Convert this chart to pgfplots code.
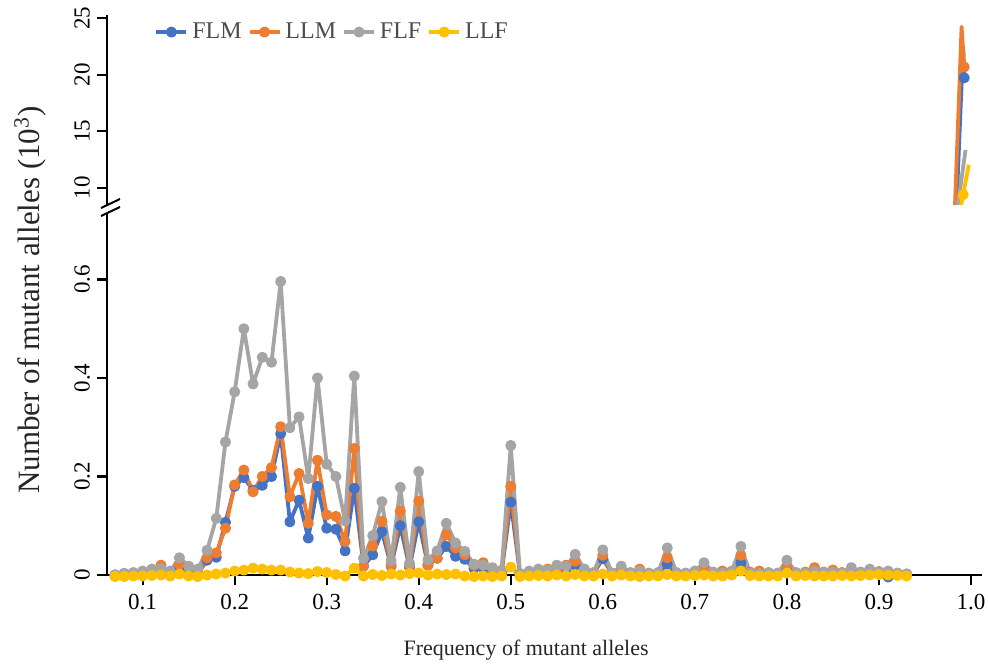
\documentclass[border=0pt]{standalone}
\usepackage{fontspec}
\setmainfont{Liberation Serif}
\usepackage{pgfplots}
\usepackage{pgfplotstable}
\pgfplotsset{compat=1.18}

\definecolor{cFLM}{HTML}{4472C4}
\definecolor{cLLM}{HTML}{ED7D31}
\definecolor{cFLF}{HTML}{A5A5A5}
\definecolor{cLLF}{HTML}{FFC000}

\pgfplotsset{
  ser/.style={color=#1, line width=1.9pt, line join=round, mark=*, mark size=1.8pt, mark options={solid}},
  brk/.style={
    scale only axis, width=437.5pt, anchor=south west,
    xmin=0.0613, xmax=1.012,
    axis y line*=left,
    axis line style={-, line width=1.1pt, black},
    tick style={line width=1.1pt, black},
    tick align=outside, major tick length=5pt,
    ticklabel style={font=\fontsize{11.5}{13}\selectfont},
    yticklabel style={rotate=90, anchor=south},
    /pgf/number format/assume math mode=true,
  },
}

% frequency, FLM, LLM, FLF, LLF  (counts in 10^3)
\pgfplotstableread{
x flm llm flf llf
0.07 0.000 0.000 0.000 -0.003
0.08 0.003 0.002 0.003 -0.003
0.09 0.002 0.003 0.005 -0.002
0.10 0.005 0.005 0.008 -0.002
0.11 0.006 0.008 0.012 -0.001
0.12 0.012 0.020 0.013 0.000
0.13 0.003 0.003 0.008 -0.002
0.14 0.015 0.022 0.035 0.002
0.15 0.005 0.006 0.018 -0.002
0.16 0.003 0.003 0.012 -0.003
0.17 0.030 0.035 0.050 0.000
0.18 0.036 0.045 0.115 0.002
0.19 0.107 0.095 0.270 0.004
0.20 0.180 0.183 0.372 0.008
0.21 0.198 0.213 0.500 0.010
0.22 0.172 0.169 0.388 0.014
0.23 0.182 0.200 0.442 0.012
0.24 0.200 0.218 0.432 0.010
0.25 0.287 0.301 0.596 0.010
0.26 0.108 0.159 0.299 0.006
0.27 0.152 0.206 0.321 0.004
0.28 0.075 0.105 0.196 0.003
0.29 0.180 0.233 0.400 0.007
0.30 0.095 0.122 0.225 0.005
0.31 0.093 0.119 0.200 0.001
0.32 0.049 0.068 0.110 -0.002
0.33 0.176 0.257 0.404 0.014
0.34 0.018 0.018 0.034 -0.002
0.35 0.041 0.059 0.080 0.001
0.36 0.088 0.109 0.149 -0.001
0.37 0.018 0.020 0.029 0.002
0.38 0.100 0.130 0.178 0.000
0.39 0.015 0.018 0.024 0.003
0.40 0.108 0.150 0.210 0.004
0.41 0.020 0.020 0.031 0.000
0.42 0.034 0.034 0.049 0.002
0.43 0.058 0.082 0.105 0.001
0.44 0.038 0.055 0.065 0.002
0.45 0.032 0.041 0.048 -0.002
0.46 0.013 0.020 0.022 -0.003
0.47 0.015 0.025 0.020 -0.002
0.48 0.008 0.012 0.015 -0.003
0.49 0.005 0.006 0.010 -0.002
0.50 0.148 0.180 0.263 0.016
0.51 0.002 0.002 0.003 -0.003
0.52 0.004 0.005 0.008 -0.002
0.53 0.006 0.008 0.012 -0.001
0.54 0.008 0.012 0.010 -0.002
0.55 0.008 0.010 0.020 0.000
0.56 0.012 0.020 0.018 -0.002
0.57 0.020 0.028 0.042 0.001
0.58 0.010 0.008 0.012 -0.002
0.59 0.003 0.004 0.005 -0.002
0.60 0.033 0.040 0.051 0.002
0.61 0.003 0.003 0.004 -0.002
0.62 0.006 0.010 0.018 0.000
0.63 0.003 0.003 0.005 -0.002
0.64 0.006 0.012 0.008 -0.003
0.65 0.002 0.003 0.004 -0.002
0.66 0.003 0.004 0.005 -0.002
0.67 0.022 0.035 0.055 0.001
0.68 0.003 0.004 0.005 -0.002
0.69 0.002 0.003 0.004 -0.002
0.70 0.004 0.006 0.008 -0.001
0.71 0.010 0.015 0.025 0.000
0.72 0.003 0.005 0.006 -0.002
0.73 0.004 0.008 0.004 -0.002
0.74 0.003 0.004 0.008 0.000
0.75 0.025 0.040 0.058 0.008
0.76 0.004 0.006 0.004 -0.001
0.77 0.005 0.008 0.003 -0.002
0.78 0.003 0.004 0.005 -0.002
0.79 0.002 0.003 0.004 -0.002
0.80 0.012 0.018 0.030 0.004
0.81 0.003 0.004 0.005 -0.002
0.82 0.004 0.006 0.004 -0.001
0.83 0.008 0.015 0.008 -0.002
0.84 0.004 0.006 0.005 -0.002
0.85 0.005 0.010 0.006 -0.002
0.86 0.003 0.005 0.004 -0.001
0.87 0.006 0.008 0.015 -0.002
0.88 0.004 0.005 0.006 -0.001
0.89 0.005 0.008 0.012 0.000
0.90 0.003 0.007 0.006 0.001
0.91 -0.004 0.004 0.008 0.000
0.92 0.002 0.003 0.004 -0.001
0.93 0.001 0.002 0.002 -0.002
}\lowdata

\begin{document}
\begin{tikzpicture}

% lower part of the broken axis
\begin{axis}[brk, at={(53.5pt,47.5pt)}, height=181pt,
  ymin=0, ymax=0.735, clip=false,
  axis x line*=bottom,
  xtick={0.1,0.2,0.3,0.4,0.5,0.6,0.7,0.8,0.9,1.0},
  xticklabels={0.1,0.2,0.3,0.4,0.5,0.6,0.7,0.8,0.9,1.0},
  xticklabel style={yshift=-1pt},
  ytick={0,0.2,0.4,0.6},
  yticklabels={0,0.2,0.4,0.6},
  xlabel={Frequency of mutant alleles},
  xlabel style={at={(axis description cs:0.479,0)}, anchor=north, yshift=-29pt,
    font=\fontsize{11}{13}\selectfont, text=black!85},
]
\addplot[ser=cFLM] table[x=x, y=flm] {\lowdata};
\addplot[ser=cLLM] table[x=x, y=llm] {\lowdata};
\addplot[ser=cFLF] table[x=x, y=flf] {\lowdata};
\addplot[ser=cLLF] table[x=x, y=llf] {\lowdata};
\end{axis}

% upper part of the broken axis
\begin{axis}[brk, at={(53.5pt,232.5pt)}, height=95pt,
  ymin=8.48, ymax=25.3,
  axis x line=none, xtick=\empty,
  ytick={10,15,20,25},
  legend columns=4,
  legend style={draw=none, fill=none, at={(0.047,0.91)}, anchor=west,
    font=\fontsize{12}{14}\selectfont, text=black!70,
    /tikz/every even column/.append style={column sep=1pt}},
  legend image code/.code={
    \draw[#1, mark repeat=2, mark phase=2] plot coordinates {(0pt,0pt) (7.5pt,0pt) (15pt,0pt)};},
]
\addlegendimage{ser=cFLM}
\addlegendimage{ser=cLLM}
\addlegendimage{ser=cFLF}
\addlegendimage{ser=cLLF}
\addplot[ser=cFLM, no marks, forget plot] coordinates {(0.9800,0) (0.9915,22.5) (0.9926,19.74)};
\addplot[ser=cLLM, no marks, forget plot] coordinates {(0.9788,0) (0.9898,24.26) (0.9926,20.7)};
\addplot[ser=cFLF, no marks, forget plot] coordinates {(0.9715,0) (0.9941,13.35)};
\addplot[ser=cLLF, no marks, forget plot] coordinates {(0.9695,0) (0.9915,9.4) (0.9977,12.05)};
\addplot[ser=cFLM, only marks, forget plot] coordinates {(0.9926,19.74)};
\addplot[ser=cLLM, only marks, forget plot] coordinates {(0.9926,20.7)};
\addplot[ser=cLLF, only marks, forget plot] coordinates {(0.9915,9.4)};
\legend{FLM,LLM,FLF,LLF}
\end{axis}

% axis break marks
\draw[line width=1pt] (50.5pt,231pt) -- (60pt,235.5pt);
\draw[line width=1pt] (50.5pt,227pt) -- (60pt,231.5pt);

\node[rotate=90, font=\fontsize{15.5}{18}\selectfont, text=black!85] at (15pt,185pt)
  {Number of mutant alleles (10\textsuperscript{3})};

\pgfresetboundingbox
\useasboundingbox (0pt,0pt) rectangle (494pt,335pt);
\end{tikzpicture}
\end{document}
